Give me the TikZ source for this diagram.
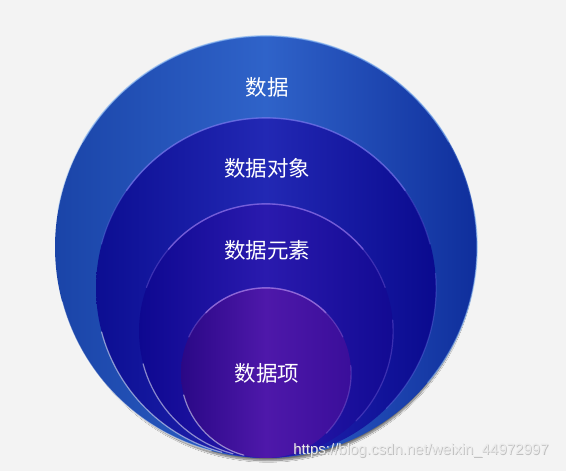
\documentclass[tikz,border=0pt]{standalone}
\usepackage{fontspec}
\newfontfamily\cjk{Noto Sans CJK SC}
\newfontfamily\wmfont{Liberation Sans}
\usetikzlibrary{shadows.blur}
\definecolor{bg}{HTML}{F3F3F3}
\definecolor{cAl}{HTML}{1A44A8}\definecolor{cAm}{HTML}{2F63C9}\definecolor{cAr}{HTML}{0F2E9C}
\definecolor{cBl}{HTML}{0C0E92}\definecolor{cBm}{HTML}{2228B4}\definecolor{cBr}{HTML}{0A0A8E}
\definecolor{cCl}{HTML}{0E0890}\definecolor{cCm}{HTML}{2A1AAE}\definecolor{cCr}{HTML}{120A92}
\definecolor{cDl}{HTML}{2A0886}\definecolor{cDm}{HTML}{4E18AA}\definecolor{cDr}{HTML}{3A0E9A}
\definecolor{rimA}{HTML}{7FB0F0}\definecolor{rimB}{HTML}{7E7CF0}
\definecolor{rimC}{HTML}{9C7CF0}\definecolor{rimD}{HTML}{B88CF0}
\tikzset{
  disc/.style={circle, draw=none, inner sep=0pt},
  lbl/.style={text=white, font=\cjk\fontsize{21.5}{25}\selectfont, inner sep=0pt},
  rim/.style={line width=1.4pt, opacity=0.55, line cap=round},
  rimfaint/.style={line width=1.2pt, opacity=0.3, line cap=round},
  glint/.style={line width=1.2pt, white, opacity=0.5, line cap=round},
}
\begin{document}
\begin{tikzpicture}[x=1pt,y=1pt]
\useasboundingbox (0,0) rectangle (566,471);
\fill[bg] (0,0) rectangle (566,471);
% discs
\node[disc, minimum size=422pt, left color=cAl, right color=cAr, middle color=cAm,
  blur shadow={shadow xshift=2pt, shadow yshift=-8pt, shadow scale=0.975, shadow blur steps=14, shadow opacity=55}] (c1) at (266,224) {};
\draw[rimfaint, rimA] (c1.170) arc[start angle=170, end angle=10, radius=211pt];
\draw[rim, rimA] (c1.150) arc[start angle=150, end angle=30, radius=211pt];
\draw[glint] (c1.195) arc[start angle=195, end angle=255, radius=211pt];
\draw[rim, rimA] (c1.-40) arc[start angle=-40, end angle=10, radius=211pt];
\node[disc, minimum size=340pt, left color=cBl, right color=cBr, middle color=cBm] (c2) at (266,183) {};
\draw[rimfaint, rimB] (c2.165) arc[start angle=165, end angle=15, radius=170pt];
\draw[rim, rimB] (c2.145) arc[start angle=145, end angle=35, radius=170pt];
\draw[glint] (c2.195) arc[start angle=195, end angle=255, radius=170pt];
\draw[rimfaint, rimB] (c2.-45) arc[start angle=-45, end angle=5, radius=170pt];
\node[disc, minimum size=254pt, left color=cCl, right color=cCr, middle color=cCm] (c3) at (266,140) {};
\draw[rimfaint, rimC] (c3.160) arc[start angle=160, end angle=20, radius=127pt];
\draw[rim, rimC] (c3.140) arc[start angle=140, end angle=40, radius=127pt];
\draw[glint] (c3.195) arc[start angle=195, end angle=255, radius=127pt];
\draw[rimfaint, rimC] (c3.-45) arc[start angle=-45, end angle=5, radius=127pt];
\node[disc, minimum size=170pt, left color=cDl, right color=cDr, middle color=cDm] (c4) at (266,98) {};
\draw[rimfaint, rimD] (c4.155) arc[start angle=155, end angle=25, radius=85pt];
\draw[rim, rimD] (c4.135) arc[start angle=135, end angle=45, radius=85pt];
\draw[glint] (c4.195) arc[start angle=195, end angle=255, radius=85pt];
\draw[rimfaint, rimD] (c4.-45) arc[start angle=-45, end angle=5, radius=85pt];
% labels
\node[lbl] (t1) at (267,384) {数据};
\node[lbl] (t2) at (267,303) {数据对象};
\node[lbl] (t3) at (267,221) {数据元素};
\node[lbl] (t4) at (267,98) {数据项};
% watermark
\node[text=black!45, opacity=0.5, font=\wmfont\fontsize{15}{18}\selectfont, inner sep=0pt] (wms) at (421.8,19.3) {https://blog.csdn.net/weixin\_44972997};
\node[text=white!92!black, font=\wmfont\fontsize{15}{18}\selectfont, inner sep=0pt] (wm) at (421,20) {https://blog.csdn.net/weixin\_44972997};
\end{tikzpicture}
\end{document}
